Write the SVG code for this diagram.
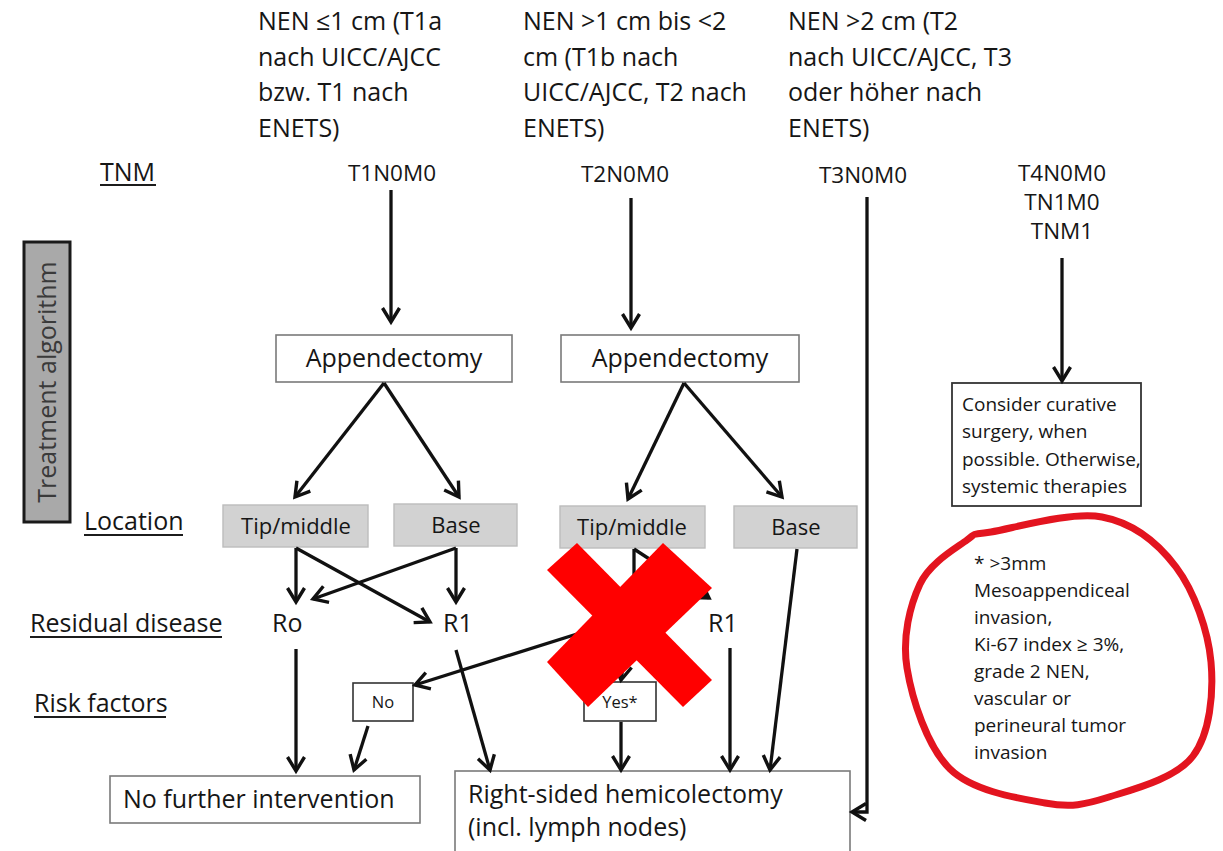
<svg xmlns="http://www.w3.org/2000/svg" width="1223" height="851" viewBox="0 0 1223 851">
  <style>
    text { font-family: "Open Sans", "Noto Sans", "Liberation Sans", sans-serif; fill: #161616; }
    .hdr { font-size: 25px; }
    .tnm { font-size: 22.5px; text-anchor: middle; }
    .lbl { font-size: 25px; }
    .big { font-size: 25px; }
    .mid { text-anchor: middle; }
    .loc { font-size: 22px; text-anchor: middle; }
    .small { font-size: 19px; }
    .note { font-size: 19px; }
    .tiny { font-size: 16.5px; text-anchor: middle; }
    .box { fill: #ffffff; stroke: #7a7a7a; stroke-width: 1.6; }
    .gbox { fill: #d2d2d2; stroke: #bcbcbc; stroke-width: 1.4; }
    .ul { stroke: #1c1c1c; stroke-width: 2; }
    .arrow { stroke: #111111; stroke-width: 3.3; fill: none; marker-end: url(#head); }
  </style>
  <defs>
    <marker id="head" markerUnits="userSpaceOnUse" markerWidth="24" markerHeight="24" viewBox="0 0 24 24" refX="19" refY="12" orient="auto">
      <path d="M5,3.5 L19,12 L5,20.5" fill="none" stroke="#111111" stroke-width="3.4" stroke-linejoin="miter"/>
    </marker>
  </defs>

  <rect width="1223" height="851" fill="#ffffff"/>

  <!-- size headings -->
  <g id="heading-t1">
    <text class="hdr" x="258" y="30">NEN ≤1 cm (T1a</text>
    <text class="hdr" x="258" y="66">nach UICC/AJCC</text>
    <text class="hdr" x="258" y="101">bzw. T1 nach</text>
    <text class="hdr" x="258" y="137">ENETS)</text>
  </g>
  <g id="heading-t2">
    <text class="hdr" x="523" y="30">NEN &gt;1 cm bis &lt;2</text>
    <text class="hdr" x="523" y="66">cm (T1b nach</text>
    <text class="hdr" x="523" y="101">UICC/AJCC, T2 nach</text>
    <text class="hdr" x="523" y="137">ENETS)</text>
  </g>
  <g id="heading-t3">
    <text class="hdr" x="788" y="30">NEN &gt;2 cm (T2</text>
    <text class="hdr" x="788" y="66">nach UICC/AJCC, T3</text>
    <text class="hdr" x="788" y="101">oder höher nach</text>
    <text class="hdr" x="788" y="137">ENETS)</text>
  </g>

  <!-- row labels -->
  <g id="label-tnm">
    <text class="lbl" x="100" y="181">TNM</text>
    <line class="ul" x1="100" y1="185" x2="156" y2="185"/>
  </g>
  <g id="label-treatment">
    <rect x="24" y="242" width="46" height="280" fill="#a9a9a9" stroke="#1a1a1a" stroke-width="3"/>
    <text class="lbl" transform="translate(56,382) rotate(-90)" text-anchor="middle" style="fill:#3a3a3a">Treatment algorithm</text>
  </g>
  <g id="label-location">
    <text class="lbl" x="84" y="530">Location</text>
    <line class="ul" x1="84" y1="535" x2="183" y2="535"/>
  </g>
  <g id="label-residual">
    <text class="lbl" x="30" y="632">Residual disease</text>
    <line class="ul" x1="30" y1="637" x2="222" y2="637"/>
  </g>
  <g id="label-risk">
    <text class="lbl" x="34" y="712">Risk factors</text>
    <line class="ul" x1="34" y1="717" x2="166" y2="717"/>
  </g>

  <!-- TNM stages -->
  <g id="stage-t1"><text class="tnm" x="392" y="181">T1N0M0</text></g>
  <g id="stage-t2"><text class="tnm" x="625" y="182">T2N0M0</text></g>
  <g id="stage-t3"><text class="tnm" x="863" y="183">T3N0M0</text></g>
  <g id="stage-t4">
    <text class="tnm" x="1062" y="181">T4N0M0</text>
    <text class="tnm" x="1062" y="210">TN1M0</text>
    <text class="tnm" x="1062" y="239">TNM1</text>
  </g>

  <!-- procedures -->
  <g id="appendectomy-1">
    <rect class="box" x="276" y="335" width="236" height="47"/>
    <text class="big mid" x="394" y="367">Appendectomy</text>
  </g>
  <g id="appendectomy-2">
    <rect class="box" x="561" y="335" width="238" height="47"/>
    <text class="big mid" x="680" y="367">Appendectomy</text>
  </g>
  <g id="consider">
    <rect x="952" y="383" width="189" height="123" fill="#ffffff" stroke="#333333" stroke-width="1.8"/>
    <text class="small" x="962" y="411">Consider curative</text>
    <text class="small" x="962" y="438">surgery, when</text>
    <text class="small" x="962" y="466">possible. Otherwise,</text>
    <text class="small" x="962" y="493">systemic therapies</text>
  </g>

  <!-- locations -->
  <g id="tip-1">
    <rect class="gbox" x="223" y="505" width="145" height="42"/>
    <text class="loc" x="296" y="534">Tip/middle</text>
  </g>
  <g id="base-1">
    <rect class="gbox" x="394" y="504" width="123" height="42"/>
    <text class="loc" x="456" y="533">Base</text>
  </g>
  <g id="tip-2">
    <rect class="gbox" x="560" y="506" width="145" height="42"/>
    <text class="loc" x="632" y="535">Tip/middle</text>
  </g>
  <g id="base-2">
    <rect class="gbox" x="734" y="506" width="123" height="42"/>
    <text class="loc" x="796" y="535">Base</text>
  </g>

  <!-- residual disease -->
  <g id="r0-1"><text class="big" x="272" y="632">Ro</text></g>
  <g id="r1-1"><text class="big" x="443" y="632">R1</text></g>
  <g id="r1-2"><text class="big" x="708" y="632">R1</text></g>

  <!-- risk factors -->
  <g id="risk-no">
    <rect x="353" y="683" width="60" height="38" fill="#ffffff" stroke="#333333" stroke-width="1.6"/>
    <text class="tiny" x="383" y="708">No</text>
  </g>
  <g id="risk-yes">
    <rect x="584" y="682" width="72" height="39" fill="#ffffff" stroke="#333333" stroke-width="1.6"/>
    <text class="tiny" x="620" y="708">Yes*</text>
  </g>

  <!-- outcomes -->
  <g id="no-further">
    <rect class="box" x="110" y="776" width="310" height="47"/>
    <text class="big" x="123" y="808">No further intervention</text>
  </g>
  <g id="hemicolectomy">
    <rect class="box" x="455" y="771" width="395" height="90"/>
    <text class="big" x="468" y="803">Right-sided hemicolectomy</text>
    <text class="big" x="468" y="836">(incl. lymph nodes)</text>
  </g>

  <!-- connectors -->
  <g id="connectors">
    <line class="arrow" x1="391" y1="190" x2="391" y2="322"/>
    <line class="arrow" x1="631" y1="198" x2="631" y2="328"/>
    <polyline class="arrow" points="867,197 867,812 852,812"/>
    <line class="arrow" x1="1062" y1="258" x2="1062" y2="381"/>

    <line class="arrow" x1="384" y1="383" x2="295" y2="497"/>
    <line class="arrow" x1="384" y1="383" x2="459" y2="497"/>
    <line class="arrow" x1="684" y1="383" x2="628" y2="499"/>
    <line class="arrow" x1="684" y1="383" x2="782" y2="497"/>

    <line class="arrow" x1="296" y1="548" x2="296" y2="602"/>
    <line class="arrow" x1="296" y1="548" x2="430" y2="622"/>
    <line class="arrow" x1="456" y1="548" x2="456" y2="602"/>
    <line class="arrow" x1="456" y1="548" x2="313" y2="599"/>

    <line class="arrow" x1="634" y1="549" x2="634" y2="600"/>
    <line class="arrow" x1="634" y1="549" x2="709" y2="598"/>
    <line class="arrow" x1="626" y1="648" x2="621" y2="680"/>

    <line class="arrow" x1="296" y1="649" x2="296" y2="771"/>
    <line class="arrow" x1="368" y1="726" x2="354" y2="770"/>
    <line class="arrow" x1="456" y1="650" x2="490" y2="770"/>
    <line class="arrow" x1="612" y1="623" x2="415" y2="685"/>
    <line class="arrow" x1="621" y1="722" x2="621" y2="770"/>
    <line class="arrow" x1="730" y1="648" x2="730" y2="770"/>
    <line class="arrow" x1="797" y1="549" x2="770" y2="770"/>
  </g>

  <!-- strike-out mark -->
  <g id="strike" fill="#ff0000">
    <polygon points="547,570 577,543 712,680 683,707"/>
    <polygon points="663,543 712,588 588,707 547,662"/>
  </g>

  <!-- footnote -->
  <g id="footnote">
    <path d="M991,532 C1013.5,528.2 1071.2,511.2 1102,517 C1132.8,522.8 1157.8,542.8 1176,567 C1194.2,591.2 1208.2,630.5 1211,662 C1213.8,693.5 1210,733.5 1193,756 C1176,778.5 1133.7,789.2 1109,797 C1084.3,804.8 1071.5,807.7 1045,803 C1018.5,798.3 973,791.5 950,769 C927,746.5 912,698.8 907,668 C902,637.2 910,605.3 920,584 C930,562.7 955.2,548.7 967,540 C978.8,531.3 968.5,535.8 991,532 Z" fill="none" stroke="#e3141f" stroke-width="7" stroke-linejoin="round"/>
    <text class="note" x="974" y="570">* &gt;3mm</text>
    <text class="note" x="974" y="597">Mesoappendiceal</text>
    <text class="note" x="974" y="624">invasion,</text>
    <text class="note" x="974" y="651">Ki-67 index ≥ 3%,</text>
    <text class="note" x="974" y="678">grade 2 NEN,</text>
    <text class="note" x="974" y="705">vascular or</text>
    <text class="note" x="974" y="732">perineural tumor</text>
    <text class="note" x="974" y="759">invasion</text>
  </g>
</svg>
